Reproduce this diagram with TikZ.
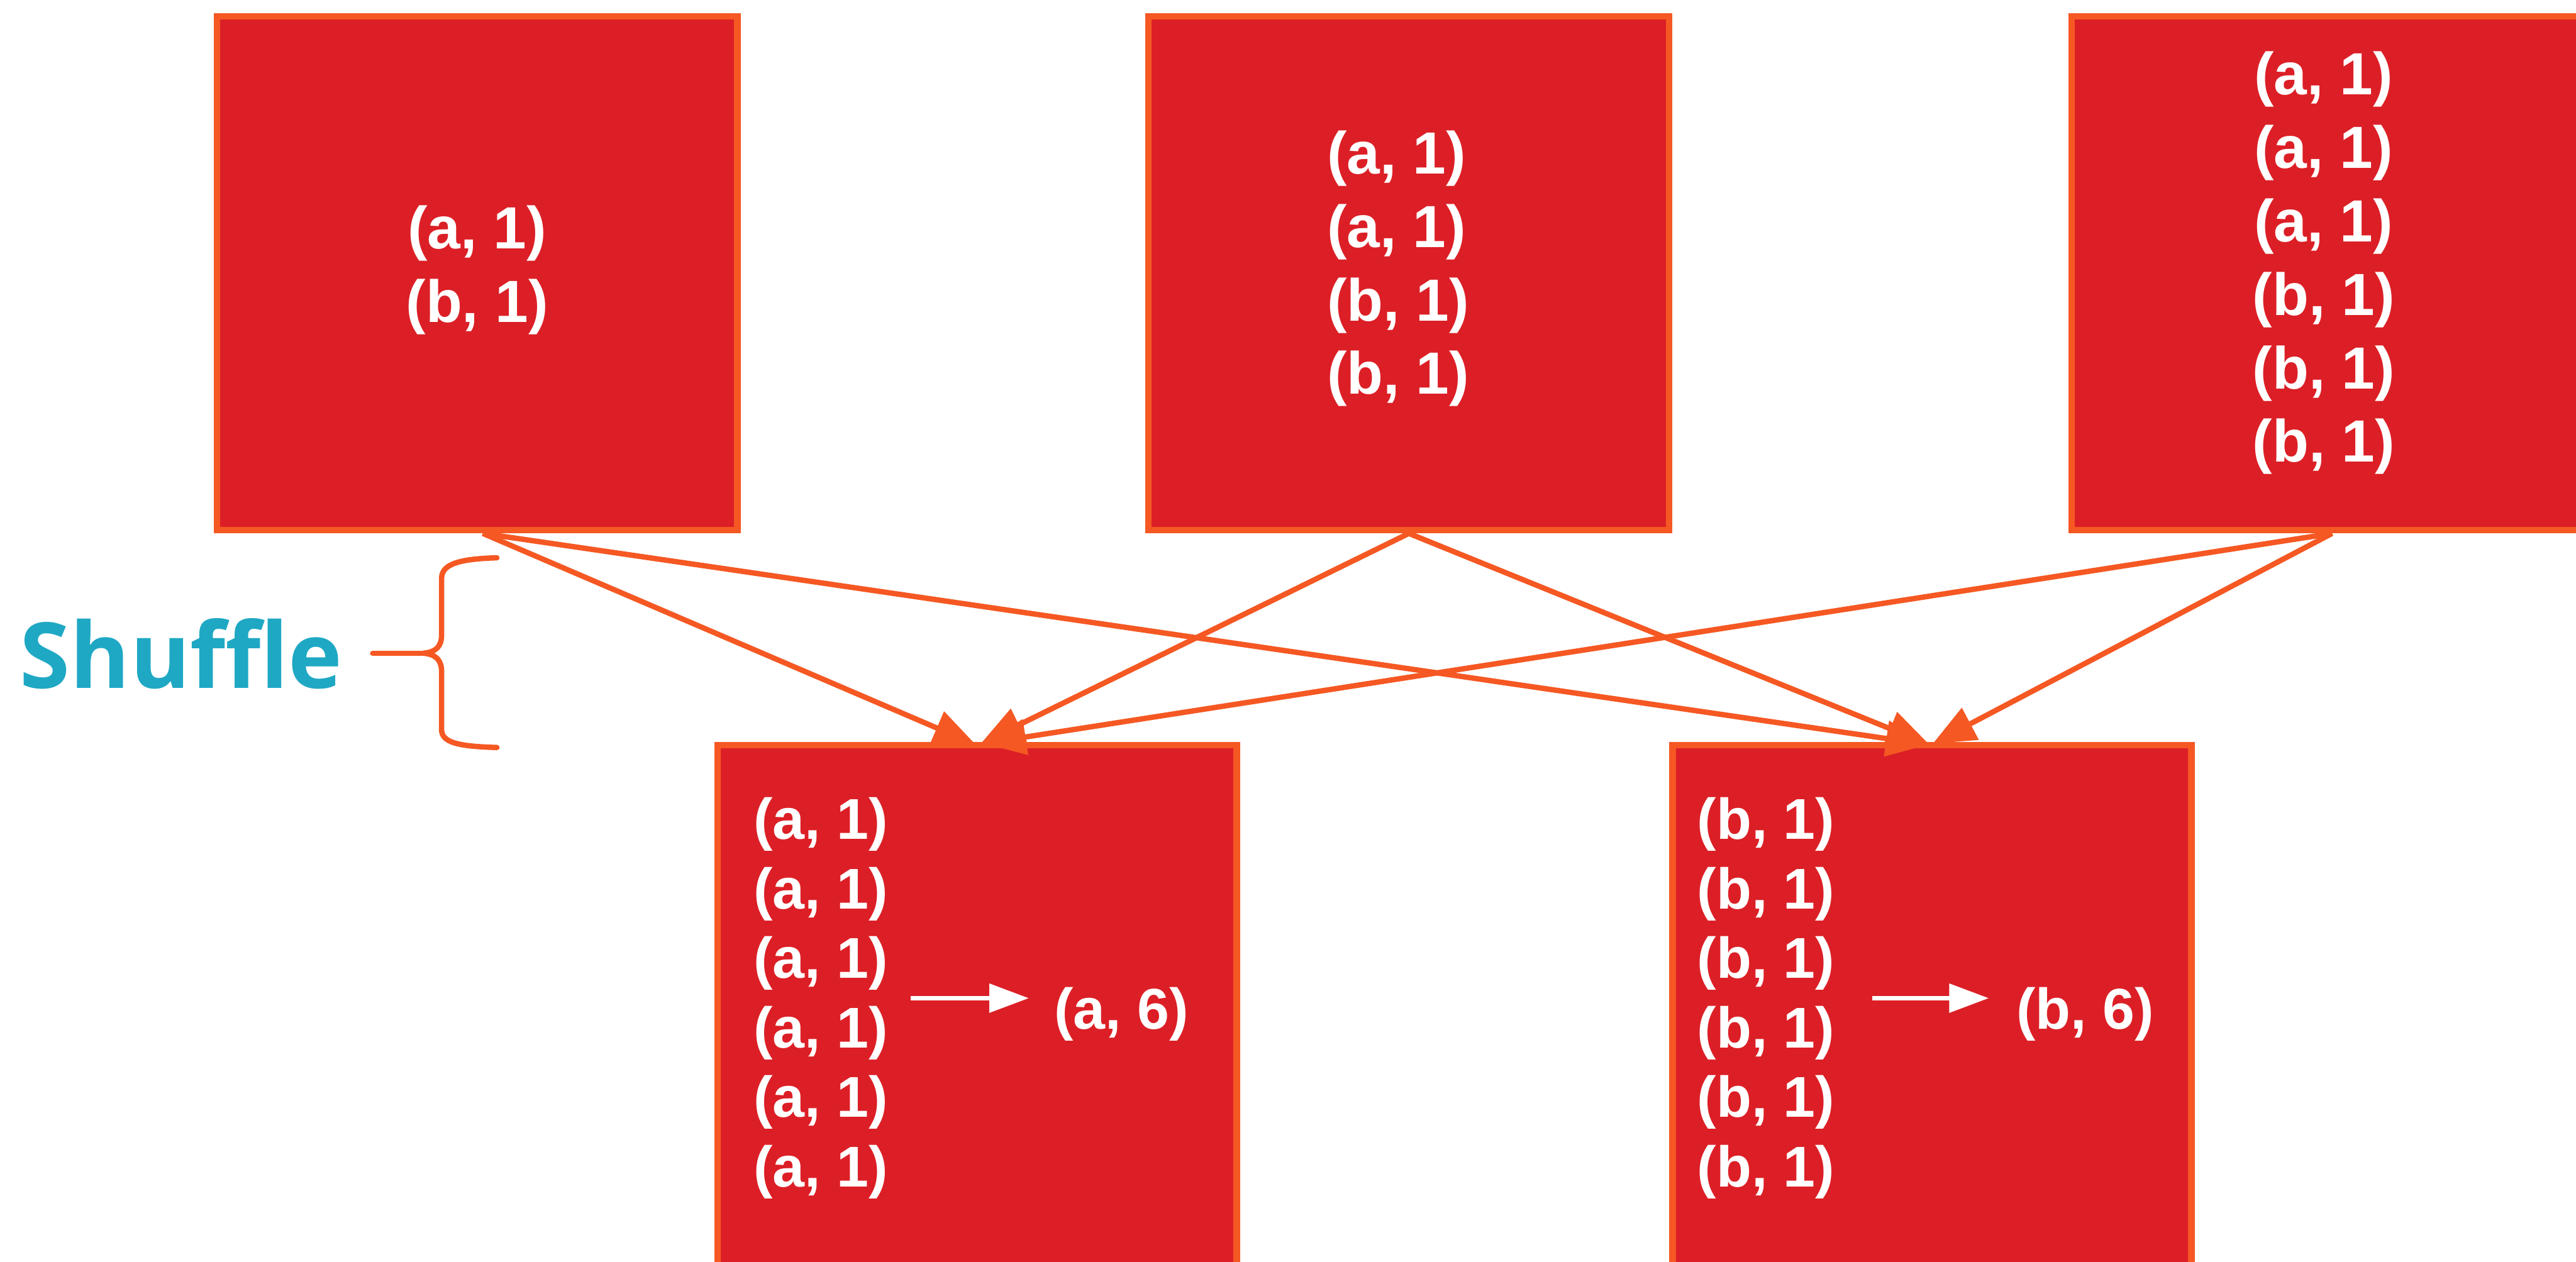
\documentclass[tikz,border=0pt]{standalone}
\usepackage{fontspec}
\setmainfont{Liberation Sans}
\newfontfamily\labelfont{Open Sans}
\usetikzlibrary{arrows.meta,calc}
\definecolor{boxred}{RGB}{220,31,38}
\definecolor{edgeorange}{RGB}{245,88,35}
\definecolor{shuffleteal}{RGB}{31,168,196}
\begin{document}
\begin{tikzpicture}[x=1cm,y=-1cm,
  part/.style={draw=edgeorange, fill=boxred, line width=3.3pt, inner sep=0pt},
  pairs/.style={text=white, font=\fontsize{30}{37}\selectfont\bfseries, align=center, inner sep=0pt},
  grouped/.style={text=white, font=\fontsize{29}{35}\selectfont\bfseries, align=left, inner sep=0pt, anchor=west},
  result/.style={text=white, font=\fontsize{29}{35}\selectfont\bfseries, inner sep=0pt, anchor=west},
  flow/.style={draw=edgeorange, line width=2.7pt, -{Triangle[length=7.5mm,width=6.2mm]}},
  reduce/.style={draw=white, line width=2.2pt, -{Triangle[length=7mm,width=5mm]}},
  bracket/.style={draw=edgeorange, line width=2.7pt, line cap=round, line join=round}
]
\useasboundingbox (0,0) rectangle (45.62,22.35);
\clip (0,0) rectangle (45.62,22.35);

% map-side partitions
\node[part, minimum width=9.22cm, minimum height=9.10cm] (m1) at (8.45,4.84) {};
\node[part, minimum width=9.22cm, minimum height=9.10cm] (m2) at (24.95,4.84) {};
\node[part, minimum width=9.22cm, minimum height=9.10cm] (m3) at (41.30,4.84) {};

\node[pairs] (m1t) at (8.45,4.78) {(a, 1)\\(b, 1)};
\node[pairs, align=left] (m2t) at (24.76,4.76) {(a, 1)\\(a, 1)\\(b, 1)\\(b, 1)};
\node[pairs] (m3t) at (41.15,4.66) {(a, 1)\\(a, 1)\\(a, 1)\\(b, 1)\\(b, 1)\\(b, 1)};

% reduce-side partitions
\node[part, minimum width=9.19cm, minimum height=9.45cm] (ra) at (17.305,17.92) {};
\node[part, minimum width=9.19cm, minimum height=9.45cm] (rb) at (34.215,17.92) {};

\node[grouped] (rat) at (13.34,17.68) {(a, 1)\\(a, 1)\\(a, 1)\\(a, 1)\\(a, 1)\\(a, 1)};
\node[grouped] (rbt) at (30.05,17.68) {(b, 1)\\(b, 1)\\(b, 1)\\(b, 1)\\(b, 1)\\(b, 1)};

\coordinate (ra0) at (16.13,17.68);
\coordinate (ra1) at (18.22,17.68);
\node[result] (rar) at (18.66,17.96) {(a, 6)};
\draw[reduce] (ra0) -- (ra1);

\coordinate (rb0) at (33.16,17.68);
\coordinate (rb1) at (35.22,17.68);
\node[result] (rbr) at (35.70,17.96) {(b, 6)};
\draw[reduce] (rb0) -- (rb1);

% shuffle connections
\coordinate (ta1) at (17.28,13.19);
\coordinate (ta2) at (17.37,13.17);
\coordinate (ta3) at (17.42,13.17);
\coordinate (tb1) at (34.15,13.19);
\coordinate (tb2) at (34.17,13.19);
\coordinate (tb3) at (34.23,13.17);

\draw[flow] ($(m1.south)+(0.1,0)$) -- (ta1);
\draw[flow] ($(m1.south)+(0.1,0)$) -- (tb1);
\draw[flow] (m2.south) -- (ta2);
\draw[flow] (m2.south) -- (tb2);
\draw[flow] (m3.south) -- (ta3);
\draw[flow] (m3.south) -- (tb3);

% shuffle brace and label
\coordinate (bt) at (8.80,9.88);
\coordinate (bk) at (7.50,11.57);
\coordinate (bb) at (8.80,13.24);
\coordinate (bl) at (6.60,11.57);
\draw[bracket] (bt) .. controls (8.10,9.90) and (7.82,10.00) .. (7.82,10.25)
  -- (7.82,11.25) .. controls (7.82,11.45) and (7.72,11.55) .. (bk)
  .. controls (7.72,11.59) and (7.82,11.69) .. (7.82,11.90)
  -- (7.82,12.92) .. controls (7.82,13.15) and (8.10,13.22) .. (bb);
\draw[bracket] (bk) -- (bl);
\node[text=shuffleteal, font=\labelfont\bfseries\fontsize{46}{50}\selectfont, inner sep=0pt] (shuffle) at (3.21,11.58) {Shuffle};

\end{tikzpicture}
\end{document}
